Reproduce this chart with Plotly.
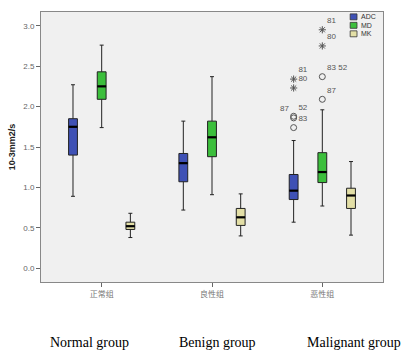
import plotly.graph_objects as go

groups = ["正常组", "良性组", "恶性组"]
eng_labels = ["Normal group", "Benign group", "Malignant group"]
series = ["ADC", "MD", "MK"]
colors = {"ADC": "#3f51b5", "MD": "#3cbf3c", "MK": "#e3dfa6"}

# stats per series: [lower whisker, q1, median, q3, upper whisker] for each group
stats = {
    "ADC": [[0.89, 1.40, 1.75, 1.85, 2.27],
            [0.72, 1.07, 1.30, 1.42, 1.82],
            [0.57, 0.85, 0.96, 1.16, 1.58]],
    "MD":  [[1.74, 2.09, 2.25, 2.43, 2.76],
            [0.91, 1.38, 1.62, 1.82, 2.37],
            [0.77, 1.06, 1.19, 1.43, 1.96]],
    "MK":  [[0.38, 0.48, 0.52, 0.57, 0.68],
            [0.40, 0.53, 0.63, 0.74, 0.92],
            [0.41, 0.74, 0.90, 0.99, 1.32]],
}

# outliers in malignant group: (value, label, kind)
outliers = {
    "ADC": [(1.86, "87", "o"), (1.88, "52", "o"), (1.74, "83", "o"),
            (2.34, "81", "*"), (2.23, "80", "*")],
    "MD":  [(2.09, "87", "o"), (2.37, "83 52", "o"),
            (2.95, "81", "*"), (2.75, "80", "*")],
}
label_pos = {
    "ADC": ["top left", "top right", "top right", "top right", "top right"],
    "MD": ["top right", "top right", "top right", "top right"],
}

offsets = {"ADC": -0.26, "MD": 0.0, "MK": 0.26}
bw = 0.08

fig = go.Figure()
for s in series:
    xs = [i + offsets[s] for i in range(len(groups))]
    st = stats[s]
    fig.add_trace(go.Box(
        x=xs,
        lowerfence=[v[0] for v in st], q1=[v[1] for v in st],
        median=[v[2] for v in st], q3=[v[3] for v in st],
        upperfence=[v[4] for v in st],
        width=bw, whiskerwidth=0.45, boxpoints=False,
        fillcolor=colors[s], line=dict(color="#222222", width=1),
        name=s, hoverinfo="skip", showlegend=False,
    ))
    for x, v in zip(xs, st):
        fig.add_trace(go.Scatter(
            x=[x - bw / 2, x + bw / 2], y=[v[2], v[2]], mode="lines",
            line=dict(color="black", width=2.2), showlegend=False, hoverinfo="skip"))

for s, pts in outliers.items():
    x0 = 2 + offsets[s]
    for (v, lab, kind), pos in zip(pts, label_pos[s]):
        fig.add_trace(go.Scatter(
            x=[x0], y=[v], mode="markers+text",
            marker=dict(symbol="circle-open" if kind == "o" else "asterisk-open",
                        size=6, color="#555555",
                        line=dict(color="#555555", width=1)),
            text=[lab], textposition=pos,
            textfont=dict(size=8, color="#555555", family="Arial"),
            showlegend=False, hoverinfo="skip"))

annotations = []
ann_x = [0.142, 0.517, 0.916]
for lab, ax in zip(eng_labels, ann_x):
    annotations.append(dict(
        x=ax, y=-0.225, xref="paper", yref="paper", text=lab, showarrow=False,
        font=dict(family="Liberation Serif, Times New Roman, serif", size=14, color="black"),
        xanchor="center", yanchor="middle"))

# compact legend (top right, inside plot)
shapes = []
for k, s in enumerate(series):
    y_top = 0.993 - k * 0.0314
    shapes.append(dict(type="rect", xref="paper", yref="paper",
                       x0=0.904, x1=0.924, y0=y_top - 0.022, y1=y_top,
                       fillcolor=colors[s], line=dict(color="#333333", width=0.8)))
    annotations.append(dict(x=0.93, y=y_top - 0.011, xref="paper", yref="paper",
                            text=s, showarrow=False, xanchor="left", yanchor="middle",
                            font=dict(size=7, family="Arial", color="#333333")))

fig.update_layout(
    width=403, height=355,
    margin=dict(l=39, r=20, t=11, b=73),
    paper_bgcolor="white", plot_bgcolor="#f0f0f0",
    showlegend=False,
    annotations=annotations, shapes=shapes,
    xaxis=dict(range=[-0.55, 2.55], tickmode="array", tickvals=[0, 1, 2],
               ticktext=groups, ticks="outside", ticklen=4, tickcolor="#666666",
               tickfont=dict(size=8, color="#777777", family="Noto Sans CJK SC"),
               showgrid=False, zeroline=False, showline=True, linecolor="#888888",
               mirror=True, linewidth=1),
    yaxis=dict(range=[-0.17, 3.17], tickvals=[0, 0.5, 1, 1.5, 2, 2.5, 3],
               ticktext=["0.0", "0.5", "1.0", "1.5", "2.0", "2.5", "3.0"],
               ticks="outside", ticklen=4, tickcolor="#666666",
               tickfont=dict(size=8, color="#666666", family="Arial"),
               showgrid=False, zeroline=False, showline=True, linecolor="#888888",
               mirror=True, linewidth=1,
               title=dict(text="<b>10-3mm2/s</b>", font=dict(size=9, family="Arial", color="#222222"),
                          standoff=6)),
)

fig.write_html("out.html")
